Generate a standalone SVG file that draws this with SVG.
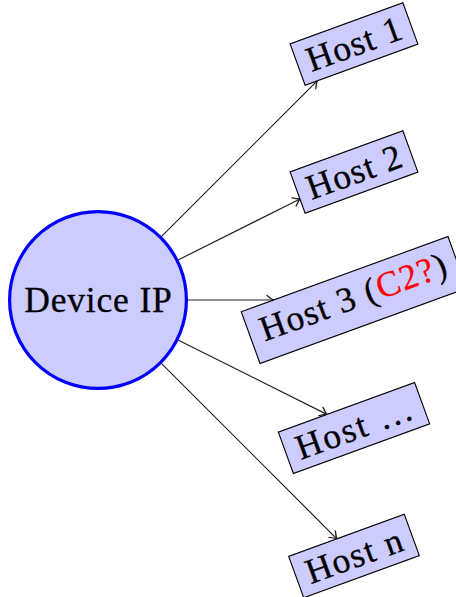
<svg xmlns="http://www.w3.org/2000/svg" width="456" height="597" viewBox="0 0 456 597">
<style>
  .box { fill: #ccccff; stroke: #000; stroke-width: 1.1; }
  .lbl { font-family: "Liberation Serif", "Times New Roman", serif; font-size: 35.5px; fill: #000; stroke: #000; stroke-width: 0.3; text-anchor: middle; }
  .red { fill: #ff0000; stroke: #ff0000; }
  .edge { fill: none; stroke: #222; stroke-width: 1.2; marker-end: url(#tip); }
</style>
<defs>
  <marker id="tip" markerUnits="userSpaceOnUse" markerWidth="12" markerHeight="12" viewBox="-7 -5 8 10" refX="0" refY="0" orient="auto">
    <path d="M -5.5 -3.8 Q -2 -0.9 0 0 Q -2 0.9 -5.5 3.8" fill="none" stroke="#222" stroke-width="1.1" stroke-linecap="round"/>
  </marker>
</defs>
<rect width="456" height="597" fill="#fff"/>
<g id="connectors">
  <line class="edge" x1="161.6" y1="236.4" x2="317.2" y2="80.8"/>
  <line class="edge" x1="178.5" y1="259.8" x2="300" y2="199"/>
  <line class="edge" x1="188" y1="300" x2="273.6" y2="300"/>
  <line class="edge" x1="178.5" y1="340.2" x2="326.9" y2="414.4"/>
  <line class="edge" x1="161.6" y1="363.6" x2="336.8" y2="538.8"/>
</g>
<g id="device">
  <circle cx="98" cy="300" r="88.4" fill="#ccccff" stroke="#0000ff" stroke-width="3.2"/>
  <text class="lbl" x="98" y="311.8" textLength="147.6" lengthAdjust="spacing">Device IP</text>
</g>
<g id="host1" transform="translate(354,44) rotate(-20)">
  <rect class="box" x="-60" y="-22" width="120" height="44"/>
  <text class="lbl" x="0" y="11.8" textLength="98.9" lengthAdjust="spacing">Host 1</text>
</g>
<g id="host2" transform="translate(354,172) rotate(-20)">
  <rect class="box" x="-60" y="-22" width="120" height="44"/>
  <text class="lbl" x="0" y="11.8" textLength="98.9" lengthAdjust="spacing">Host 2</text>
</g>
<g id="host3" transform="translate(354,300) rotate(-20)">
  <rect class="box" x="-110" y="-27.5" width="220" height="55"/>
  <text class="lbl" x="0" y="8.6" textLength="196" lengthAdjust="spacing">Host 3 (<tspan class="red">C2?</tspan>)</text>
</g>
<g id="host4" transform="translate(354,428) rotate(-20)">
  <rect class="box" x="-72.5" y="-22" width="145" height="44"/>
  <text class="lbl" x="0" y="11.8" textLength="122" lengthAdjust="spacing">Host …</text>
</g>
<g id="hostn" transform="translate(354,556) rotate(-20)">
  <rect class="box" x="-61.5" y="-22" width="123" height="44"/>
  <text class="lbl" x="0" y="11.8" textLength="100.8" lengthAdjust="spacing">Host n</text>
</g>
</svg>
